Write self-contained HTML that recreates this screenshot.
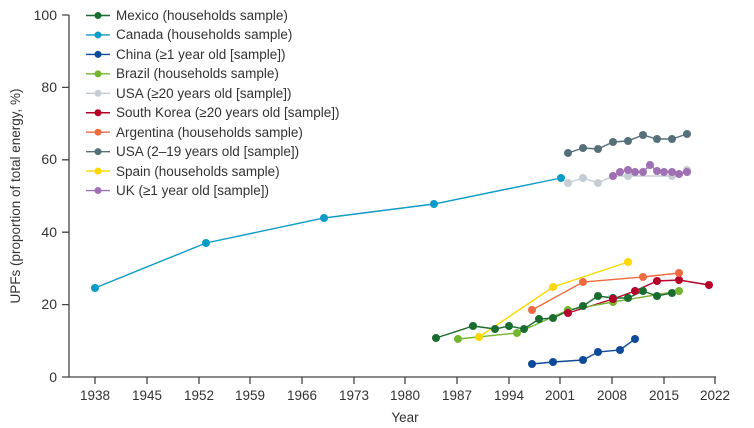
<!DOCTYPE html><html><head><style>body{margin:0;background:#fff}svg{display:block;font-family:"Liberation Sans",sans-serif}</style></head><body>
<svg width="754" height="428" viewBox="0 0 754 428">
<g stroke="#444" stroke-width="1.3" fill="none">
<path d="M69 15V377H716"/>
<path d="M62 15H69M62 87.4H69M62 159.8H69M62 232.2H69M62 304.6H69M62 377H69"/>
<path d="M95 377v7M147 377v7M199 377v7M250 377v7M302 377v7M354 377v7M405 377v7M457 377v7M509 377v7M560 377v7M612 377v7M664 377v7M715 377v7"/>
</g>
<g font-size="14" fill="#333" text-anchor="end">
<text x="57" y="20">100</text><text x="57" y="92">80</text><text x="57" y="164">60</text><text x="57" y="237">40</text><text x="57" y="309">20</text><text x="57" y="382">0</text>
</g>
<g font-size="13.5" fill="#333" text-anchor="middle">
<text x="95" y="400">1938</text><text x="147" y="400">1945</text><text x="199" y="400">1952</text><text x="250" y="400">1959</text><text x="302" y="400">1966</text><text x="354" y="400">1973</text><text x="405" y="400">1980</text><text x="457" y="400">1987</text><text x="509" y="400">1994</text><text x="560" y="400">2001</text><text x="612" y="400">2008</text><text x="664" y="400">2015</text><text x="715" y="400">2022</text>
<text x="405" y="422">Year</text>
<text transform="translate(20 196) rotate(-90)">UPFs (proportion of total energy, %)</text>
</g>
<g fill="none" stroke-width="1.4">
<polyline stroke="#0a9bc7" points="95,288 206,243 324,218 434,204 561,178"/>
<polyline stroke="#c5ccd3" points="568,183 583,178 598,183 613,176 628,176 672,176 687,170"/>
<polyline stroke="#56707a" points="568,153 583,148 598,149 613,142 628,141 643,135 657,139 672,139 687,134"/>
<polyline stroke="#a070b4" points="613,176 620,172 628,170 635,172 643,172 650,165 657,171 664,172 672,172 679,174 687,172"/>
<polyline stroke="#fad800" points="479,337 553,287 628,262"/>
<polyline stroke="#f06a40" points="532,310 583,282 643,277 679,273"/>
<polyline stroke="#b5002a" points="568,313 613,299 635,291 657,281 679,280 709,285"/>
<polyline stroke="#74b52f" points="458,339 517,333 568,310 613,302 679,291"/>
<polyline stroke="#1a6b2f" points="436,338 473,326 495,329 509,326 524,329 539,319 553,318 568,311 583,306 598,296 613,298 628,298 643,291 657,296 672,293"/>
<polyline stroke="#0d4a9a" points="532,364 553,362 583,360 598,352 620,350 635,339"/>
</g>
<g id="d"></g>
<g font-size="13.5" fill="#333">
<text x="116" y="20">Mexico (households sample)</text>
<text x="116" y="39">Canada (households sample)</text>
<text x="116" y="59">China (≥1 year old [sample])</text>
<text x="116" y="78">Brazil (households sample)</text>
<text x="116" y="98">USA (≥20 years old [sample])</text>
<text x="116" y="117">South Korea (≥20 years old [sample])</text>
<text x="116" y="137">Argentina (households sample)</text>
<text x="116" y="156">USA (2–19 years old [sample])</text>
<text x="116" y="176">Spain (households sample)</text>
<text x="116" y="195">UK (≥1 year old [sample])</text>
</g>
</svg>
<script>
var S=[["#1a6b2f","436,338 473,326 495,329 509,326 524,329 539,319 553,318 568,311 583,306 598,296 613,298 628,298 643,291 657,296 672,293"],
["#0a9bc7","95,288 206,243 324,218 434,204 561,178"],
["#0d4a9a","532,364 553,362 583,360 598,352 620,350 635,339"],
["#74b52f","458,339 517,333 568,310 613,302 679,291"],
["#c5ccd3","568,183 583,178 598,183 613,176 628,176 672,176 687,170"],
["#b5002a","568,313 613,299 635,291 657,281 679,280 709,285"],
["#f06a40","532,310 583,282 643,277 679,273"],
["#56707a","568,153 583,148 598,149 613,142 628,141 643,135 657,139 672,139 687,134"],
["#fad800","479,337 553,287 628,262"],
["#a070b4","613,176 620,172 628,170 635,172 643,172 650,165 657,171 664,172 672,172 679,174 687,172"]];
var g=document.getElementById("d"),h="";
S.forEach(function(s,i){s[1].split(" ").forEach(function(p){var a=p.split(",");h+='<circle cx="'+a[0]+'" cy="'+a[1]+'" r="4" fill="'+s[0]+'"/>';});
var y=15.5+i*19.45;h+='<line x1="86" x2="110" y1="'+y+'" y2="'+y+'" stroke="'+s[0]+'" stroke-width="1.4"/><circle cx="98" cy="'+y+'" r="3.5" fill="'+s[0]+'"/>';});
g.innerHTML=h;
</script>
</body></html>
